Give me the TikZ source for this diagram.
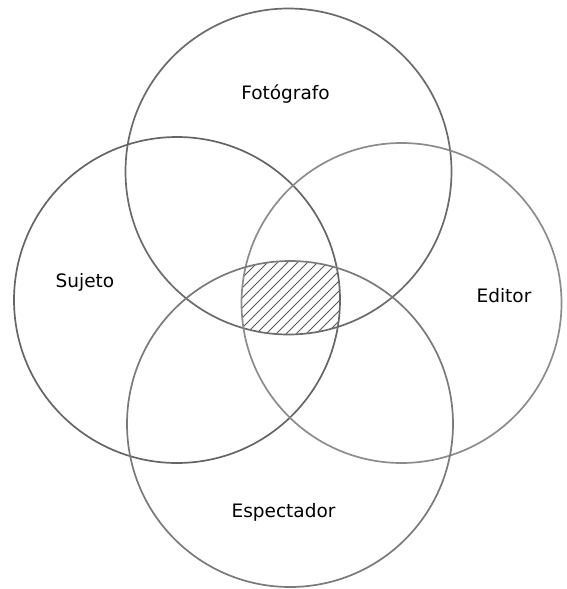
\documentclass[tikz,border=0pt]{standalone}
\usepackage{fontspec}
\setmainfont{DejaVu Sans}
\begin{document}
\begin{tikzpicture}[x=1pt,y=-1pt,
  ring/.style={circle,draw,line width=1.7pt,inner sep=0pt,outer sep=0pt},
  hatchline/.style={draw=black!65,line width=0.9pt},
  lbl/.style={anchor=base,font=\fontsize{18.5}{20}\selectfont,text=black,inner sep=0pt}]
\useasboundingbox (0,0) rectangle (566,589);
\fill[white] (0,0) rectangle (566,589);
% hatched common region
\begin{scope}
  \clip (288.5,171.5) circle[radius=163];
  \clip (177,300) circle[radius=163];
  \clip (401.5,303) circle[radius=160];
  \clip (290,424) circle[radius=163];
  \foreach \i in {-12,...,12}
    \draw[hatchline] (290+\i*10-100,400) -- ++(200,-200);
\end{scope}
% circles
\node[ring,draw=black!58,minimum size=326pt] (fotografo) at (288.5,171.5) {};
\node[ring,draw=black!60,minimum size=326pt] (sujeto) at (177,300) {};
\node[ring,draw=black!45,minimum size=320pt] (editor) at (401.5,303) {};
\node[ring,draw=black!52,minimum size=326pt] (espectador) at (290,424) {};
% labels
\node[lbl] (tfoto) at (285.5,99) {Fotógrafo};
\node[lbl] (tsuj) at (85,287) {Sujeto};
\node[lbl] (tedit) at (504,302) {Editor};
\node[lbl] (tesp) at (283.5,517) {Espectador};
\end{tikzpicture}
\end{document}
